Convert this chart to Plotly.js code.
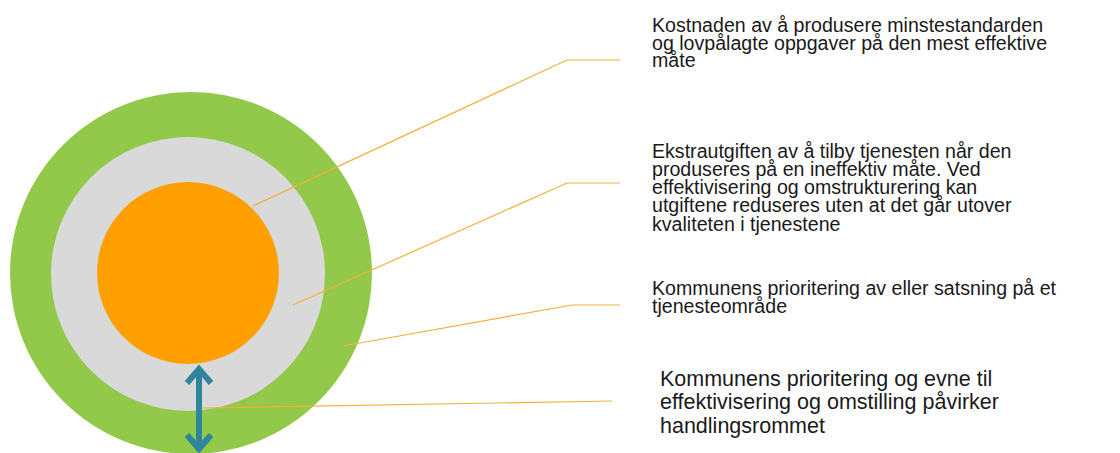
<!DOCTYPE html>
<html>
<head>
<meta charset="utf-8">
<script src="https://cdn.plot.ly/plotly-3.0.1.min.js"></script>
<style>
  html, body { margin: 0; padding: 0; background: #fff; }
  #chart { width: 1120px; height: 453px; }
</style>
</head>
<body>
<div id="chart"></div>
<script>
// --- diagram content ---
// rings from outside in: priority (green), inefficiency (grey), minimum standard (orange)
const ringLabels = ['Prioritering', 'Ineffektivitet', 'Minstestandard'];
const ringRadius = [181, 137, 91];

// label text, one array of lines per label (top to bottom)
const labelLines = [
    ['Kostnaden av å produsere minstestandarden',
     'og lovpålagte oppgaver på den mest effektive',
     'måte'],
    ['Ekstrautgiften av å tilby tjenesten når den',
     'produseres på en ineffektiv måte. Ved',
     'effektivisering og omstrukturering kan',
     'utgiftene reduseres uten at det går utover',
     'kvaliteten i tjenestene'],
    ['Kommunens prioritering av eller satsning på et',
     'tjenesteområde'],
    ['Kommunens prioritering og evne til',
     'effektivisering og omstilling påvirker',
     'handlingsrommet']
];

// --- geometry / style (pixel space, 1 unit = 1 px) ---
const W = 1120, H = 453;
const ringCenters = [[191, 273], [188, 274], [188, 273]];
const ringColors = ['#92c94a', '#d9d9d9', '#ffa000'];

// leader lines: start inside the diagram, bend, end near the text
const leaders = [
    {x: [253, 567, 620], y: [206, 60, 60]},
    {x: [293, 567, 620], y: [305, 183, 183]},
    {x: [343, 572, 620], y: [346, 305, 305]},
    {x: [202, 612],      y: [408, 401]}
];
const leaderColor = '#f2b13a';

const labelX = [650, 650, 650, 658];
const labelBase = [31.7, 158, 295, 386.7];   // baseline of first line
const labelStep = [17.7, 18.1, 18, 23.3];
const labelSize = [19.6, 19.6, 19.6, 21.5];
const textColor = '#1a1a1a';
const fontFamily = '"Liberation Sans", Arial, sans-serif';

const arrowColor = '#2f859c';
const arrowX = 199;

// --- build shapes ---
const shapes = ringRadius.map((r, i) => ({
    type: 'circle',
    xref: 'x', yref: 'y',
    x0: ringCenters[i][0] - r, x1: ringCenters[i][0] + r,
    y0: ringCenters[i][1] - r, y1: ringCenters[i][1] + r,
    fillcolor: ringColors[i],
    line: {width: 0},
    layer: 'below'
}));

// --- traces ---
const traces = [];

leaders.forEach(l => {
    traces.push({
        x: l.x, y: l.y,
        type: 'scatter', mode: 'lines',
        line: {color: leaderColor, width: 1.2},
        hoverinfo: 'skip', showlegend: false
    });
});

// double-headed arrow (shaft + two chevrons)
const arrowParts = [
    {x: [arrowX, arrowX], y: [369, 449]},
    {x: [arrowX - 12, arrowX, arrowX + 12], y: [383, 369, 383]},
    {x: [arrowX - 12, arrowX, arrowX + 12], y: [435, 449, 435]}
];
arrowParts.forEach(p => {
    traces.push({
        x: p.x, y: p.y,
        type: 'scatter', mode: 'lines',
        line: {color: arrowColor, width: 6},
        hoverinfo: 'skip', showlegend: false
    });
});

// --- text annotations, one per line so the line spacing can be kept tight ---
const annotations = [];
labelLines.forEach((lines, i) => {
    lines.forEach((txt, j) => {
        const base = labelBase[i] + j * labelStep[i];
        annotations.push({
            x: labelX[i], y: base - 0.35 * labelSize[i],
            xref: 'x', yref: 'y',
            xanchor: 'left', yanchor: 'middle',
            text: txt, showarrow: false,
            align: 'left',
            font: {family: fontFamily, size: labelSize[i], color: textColor}
        });
    });
});

const layout = {
    width: W, height: H,
    margin: {l: 0, r: 0, t: 0, b: 0},
    paper_bgcolor: '#ffffff',
    plot_bgcolor: '#ffffff',
    xaxis: {range: [0, W], visible: false, fixedrange: true},
    yaxis: {range: [H, 0], visible: false, fixedrange: true},
    shapes: shapes,
    annotations: annotations,
    showlegend: false
};

Plotly.newPlot('chart', traces, layout, {displayModeBar: false, staticPlot: true});
</script>
</body>
</html>
